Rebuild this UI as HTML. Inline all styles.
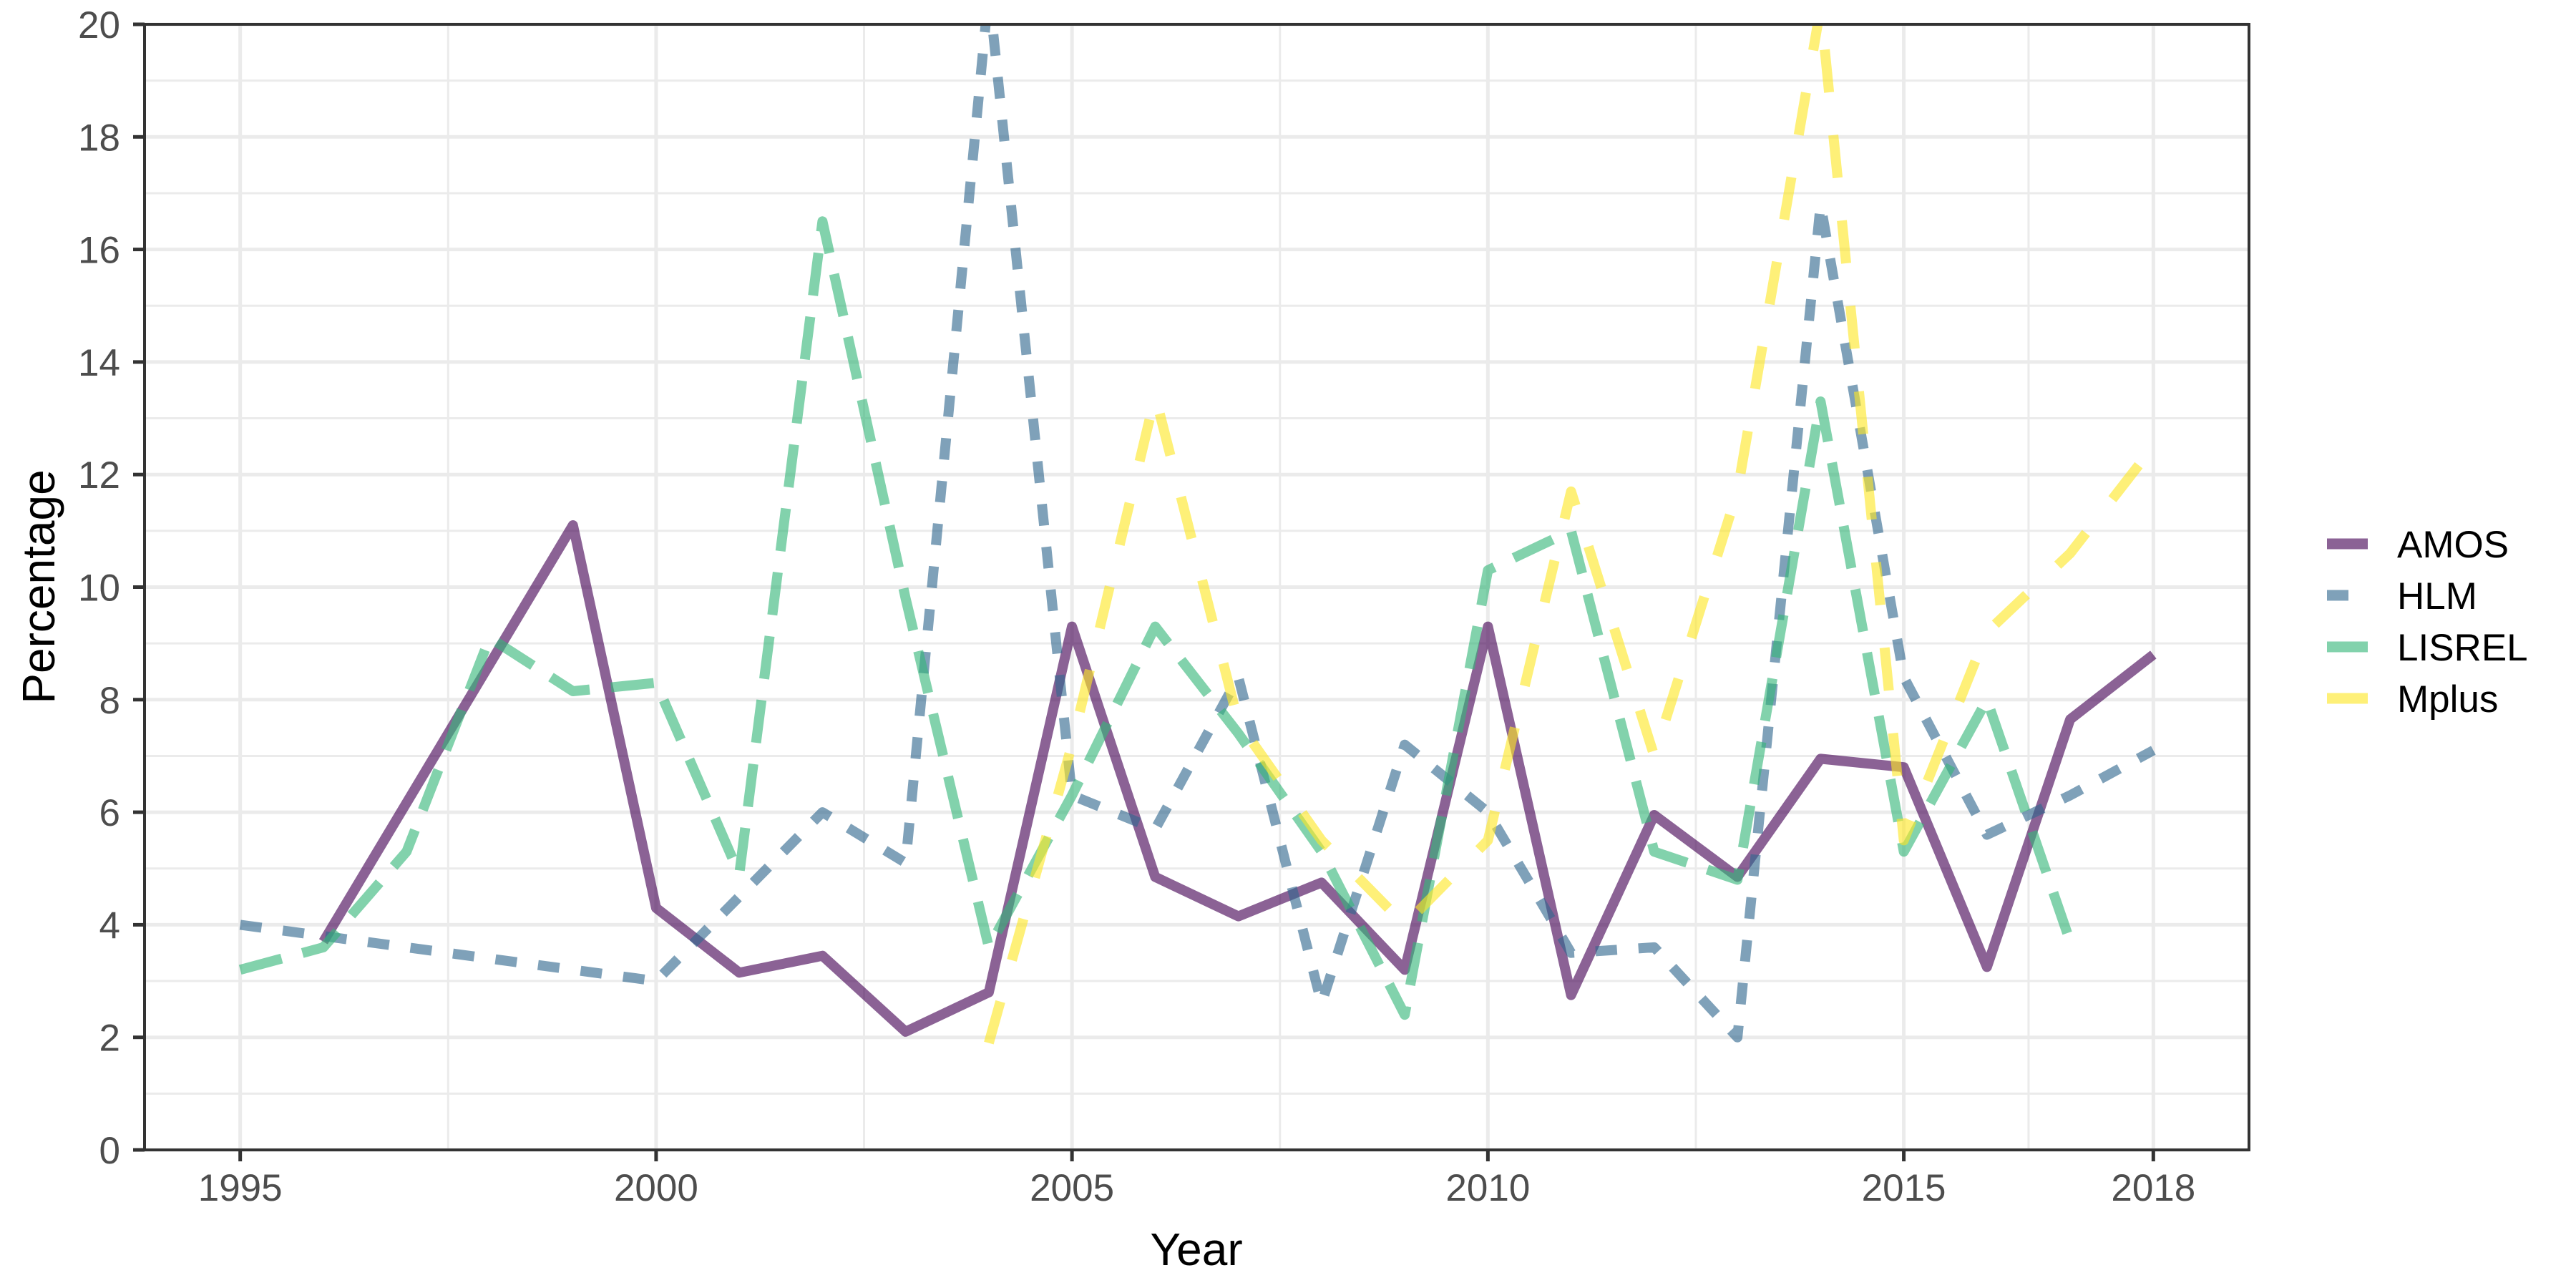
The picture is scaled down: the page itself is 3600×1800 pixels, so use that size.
<!DOCTYPE html>
<html><head><meta charset="utf-8"><style>
html,body{margin:0;padding:0;background:#fff;}
svg{display:block;font-family:"Liberation Sans",Arial,sans-serif;}
</style></head><body>
<svg id="chart" width="3600" height="1800" viewBox="0 0 3600 1800" xmlns="http://www.w3.org/2000/svg">
<rect x="0" y="0" width="3600" height="1800" fill="#fff"/>
<g id="grid"></g>
<g id="series"></g>
<rect x="202" y="34" width="2941" height="1573" fill="none" stroke="#333" stroke-width="4"/>
<g id="axes"></g>
<text x="1672" y="1768" font-size="64" text-anchor="middle" fill="#000">Year</text>
<text transform="translate(76,820) rotate(-90)" font-size="64" text-anchor="middle" fill="#000">Percentage</text>
<g id="legend"></g>
</svg>
<script>
const years = [1995,1996,1997,1998,1999,2000,2001,2002,2003,2004,2005,2006,2007,2008,2009,2010,2011,2012,2013,2014,2015,2016,2017,2018];
const amosYears = [1996,1999,2000,2001,2002,2003,2004,2005,2006,2007,2008,2009,2010,2011,2012,2013,2014,2015,2016,2017,2018];
const amosValues = [3.7,11.1,4.3,3.15,3.45,2.1,2.8,9.3,4.85,4.15,4.75,3.2,9.3,2.75,5.95,4.85,6.95,6.8,3.25,7.65,8.8];
const hlmYears = [1995,2000,2002,2003,2004,2005,2006,2007,2008,2009,2010,2011,2012,2013,2014,2015,2016,2017,2018];
const hlmValues = [4.0,3.0,6.0,5.1,20.6,6.3,5.7,8.4,2.6,7.2,6.0,3.5,3.6,2.0,16.8,8.4,5.6,6.3,7.1];
const lisrelYears = [1995,1996,1997,1998,1999,2000,2001,2002,2003,2004,2005,2006,2007,2008,2009,2010,2011,2012,2013,2014,2015,2016,2017];
const lisrelValues = [3.2,3.6,5.3,9.1,8.15,8.3,4.9,16.5,9.8,3.6,6.3,9.3,7.4,5.3,2.4,10.3,11.0,5.3,4.8,13.3,5.3,8.0,3.7];
const mplusYears = [2004,2005,2006,2007,2008,2009,2010,2011,2012,2013,2014,2015,2016,2017,2018];
const mplusValues = [1.9,7.2,13.4,7.6,5.5,4.0,5.5,11.7,7.0,11.7,20.3,5.5,9.2,10.6,12.5];
const seriesNames = ["AMOS","HLM","LISREL","Mplus"];
const xTickLabels = [1995,2000,2005,2010,2015,2018];
const xMinorTicks = [1997.5,2002.5,2007.5,2012.5,2016.5];
const yTickLabels = [0,2,4,6,8,10,12,14,16,18,20];
const yMinorTicks = [1,3,5,7,9,11,13,15,17,19];

const NS="http://www.w3.org/2000/svg";
const PL=202,PR=3143,PT=34,PB=1607;
const xMin=1995-23*0.05, xMax=2018+23*0.05;
function xs(v){return PL+(v-xMin)/(xMax-xMin)*(PR-PL);}
function ys(v){return PB-(v/20)*(PB-PT);}
function mk(tag,attrs,parent){const e=document.createElementNS(NS,tag);for(const k in attrs)e.setAttribute(k,attrs[k]);parent.appendChild(e);return e;}
const grid=document.getElementById('grid'),axes=document.getElementById('axes'),ser=document.getElementById('series'),leg=document.getElementById('legend');
yMinorTicks.forEach(v=>{const l=mk('line',{x1:PL,x2:PR,y1:ys(v),y2:ys(v),stroke:'#ebebeb','stroke-width':3},grid);

});
xMinorTicks.forEach(v=>{const l=mk('line',{x1:xs(v),x2:xs(v),y1:PT,y2:PB,stroke:'#ebebeb','stroke-width':3},grid);

});
yTickLabels.forEach(v=>{const l=mk('line',{x1:PL,x2:PR,y1:ys(v),y2:ys(v),stroke:'#ebebeb','stroke-width':5},grid);


const t=mk('line',{x1:PL-16,x2:PL,y1:ys(v),y2:ys(v),stroke:'#333','stroke-width':5},axes);


const tx=mk('text',{x:168,y:ys(v)+19,'font-size':53,'text-anchor':'end',fill:'#4d4d4d'},axes);tx.textContent=v;

});
xTickLabels.forEach(v=>{const l=mk('line',{x1:xs(v),x2:xs(v),y1:PT,y2:PB,stroke:'#ebebeb','stroke-width':5},grid);


const t=mk('line',{x1:xs(v),x2:xs(v),y1:PB,y2:PB+16,stroke:'#333','stroke-width':5},axes);


const tx=mk('text',{x:xs(v),y:1678,'font-size':53,'text-anchor':'middle',fill:'#4d4d4d'},axes);tx.textContent=v;

});
const clip=mk('clipPath',{id:'pc'},document.getElementById('chart'));mk('rect',{x:PL,y:PT,width:PR-PL,height:PB-PT},clip);
const styles=[
 {c:'#440154',d:'none',xs:amosYears,v:amosValues},
 {c:'#31688E',d:'30 30',xs:hlmYears,v:hlmValues},
 {c:'#35B779',d:'60 30',xs:lisrelYears,v:lisrelValues},
 {c:'#FDE725',d:'60 60',xs:mplusYears,v:mplusValues}];
styles.forEach((s,i)=>{
 const pts=s.xs.map((y,j)=>xs(y).toFixed(1)+','+ys(s.v[j]).toFixed(1)).join(' ');
 const p=mk('polyline',{points:pts,fill:'none',stroke:s.c,'stroke-opacity':0.62,'stroke-width':14,'stroke-dasharray':s.d,'stroke-linejoin':'round','stroke-linecap':'butt','clip-path':'url(#pc)'},ser);
 
 
 const cy=760+i*72;
 const k=mk('line',{x1:3252,x2:3309,y1:cy,y2:cy,stroke:s.c,'stroke-opacity':0.62,'stroke-width':15,'stroke-dasharray':s.d==='none'?'none':(i===1?'30 30':'none')},leg);
 
 
 const t=mk('text',{x:3350,y:cy+19,'font-size':53,fill:'#000'},leg);t.textContent=seriesNames[i];
 
 
});
</script>
</body></html>
